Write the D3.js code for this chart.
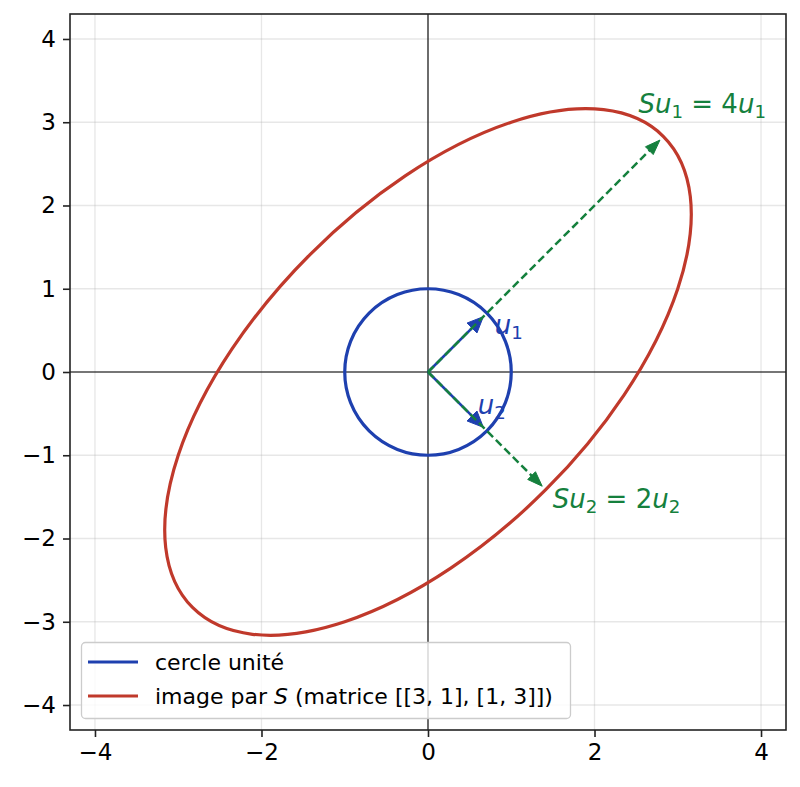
<!DOCTYPE html>
<html>
<head>
<meta charset="utf-8">
<script src="https://cdn.jsdelivr.net/npm/d3@7"></script>
<style>
  body { margin: 0; background: #fff; }
  svg text { font-family: "DejaVu Sans", sans-serif; }
</style>
</head>
<body>
<svg id="chart" width="800" height="787"></svg>
<script>
// data
const matrixS = [[3, 1], [1, 3]];
const eigenvalues = [4, 2];
const eigenvectors = [[Math.SQRT1_2, Math.SQRT1_2], [Math.SQRT1_2, -Math.SQRT1_2]];
const xTicks = [-4, -2, 0, 2, 4];
const yTicks = [-4, -3, -2, -1, 0, 1, 2, 3, 4];
const vecNames = ["u", "u"];
const legendLabels = ["cercle unité", "image par S (matrice [[3, 1], [1, 3]])"];

const blue = "#1e40af", red = "#c0392b", green = "#15803d";

const svg = d3.select("#chart");

// scales (equal aspect)
const x = d3.scaleLinear().domain([-4.3, 4.3]).range([70, 786]);
const y = d3.scaleLinear().domain([-4.3, 4.3]).range([730, 14]);
const unit = x(1) - x(0);

// grid
svg.append("g").selectAll("line").data(xTicks).join("line")
  .attr("x1", d => x(d)).attr("x2", d => x(d))
  .attr("y1", 14).attr("y2", 730)
  .attr("stroke", "#b0b0b0").attr("stroke-opacity", 0.3).attr("stroke-width", 1.3);
svg.append("g").selectAll("line").data(yTicks).join("line")
  .attr("y1", d => y(d)).attr("y2", d => y(d))
  .attr("x1", 70).attr("x2", 786)
  .attr("stroke", "#b0b0b0").attr("stroke-opacity", 0.3).attr("stroke-width", 1.3);

// axis lines through origin
svg.append("line").attr("x1", 70).attr("x2", 786).attr("y1", y(0)).attr("y2", y(0))
  .attr("stroke", "#000").attr("stroke-width", 1.1);
svg.append("line").attr("x1", x(0)).attr("x2", x(0)).attr("y1", 14).attr("y2", 730)
  .attr("stroke", "#000").attr("stroke-width", 1.1);

// unit circle
svg.append("circle")
  .attr("cx", x(0)).attr("cy", y(0)).attr("r", unit)
  .attr("fill", "none").attr("stroke", blue).attr("stroke-width", 3.2);

// image ellipse: semi-axes = eigenvalues along eigenvectors
const angle = Math.atan2(eigenvectors[0][1], eigenvectors[0][0]) * 180 / Math.PI;
svg.append("ellipse")
  .attr("cx", 0).attr("cy", 0)
  .attr("rx", x(eigenvalues[0]) - x(0))
  .attr("ry", x(eigenvalues[1]) - x(0))
  .attr("transform", `translate(${x(0)},${y(0)}) rotate(${-angle})`)
  .attr("fill", "none").attr("stroke", red).attr("stroke-width", 3.2);

// arrow helper (pixel coords)
function arrow(x0, y0, x1, y1, color, lw, headLen, headW, dash) {
  const dx = x1 - x0, dy = y1 - y0;
  const len = Math.hypot(dx, dy);
  const ux = dx / len, uy = dy / len;
  const tx = x1 - ux * 5, ty = y1 - uy * 5;       // small shrink at the tip
  const bx = tx - ux * headLen, by = ty - uy * headLen;
  svg.append("line")
    .attr("x1", x0).attr("y1", y0).attr("x2", bx + ux * 2).attr("y2", by + uy * 2)
    .attr("stroke", color).attr("stroke-width", lw)
    .attr("stroke-dasharray", dash || null);
  const px = -uy, py = ux;
  svg.append("path")
    .attr("d", `M${tx},${ty}L${bx + px * headW / 2},${by + py * headW / 2}L${bx - px * headW / 2},${by - py * headW / 2}Z`)
    .attr("fill", color).attr("stroke", color).attr("stroke-width", 1);
}

// u1, u2 (blue)
eigenvectors.forEach(v => {
  arrow(x(0), y(0), x(v[0]), y(v[1]), blue, 2.6, 16, 14);
});
// S u_i = lambda_i u_i (green dashed)
eigenvectors.forEach((v, i) => {
  arrow(x(0), y(0), x(v[0] * eigenvalues[i]), y(v[1] * eigenvalues[i]), green, 2.5, 15, 11, "8,4");
});

// labels with subscripts
function mathLabel(px, py, parts, color, size) {
  const t = svg.append("text").attr("x", px).attr("y", py)
    .attr("fill", color).attr("font-size", size);
  parts.forEach(p => {
    const s = t.append("tspan").text(p.t);
    if (p.it) s.attr("font-style", "italic");
    if (p.sub) s.attr("font-size", size * 0.7).attr("dy", size * 0.2);
    if (p.up) s.attr("dy", -size * 0.2);
  });
  return t;
}

vecNames.forEach((n, i) => {
  const v = eigenvectors[i];
  const off = i === 0 ? [8, 21] : [-9, -17];
  mathLabel(x(v[0]) + off[0], y(v[1]) + off[1],
    [{ t: n, it: true }, { t: String(i + 1), sub: true }], blue, 26);
});

const su = [
  { off: [-25, -24] },
  { off: [7, 18] }
];
eigenvectors.forEach((v, i) => {
  const lam = eigenvalues[i];
  mathLabel(x(v[0] * lam) + su[i].off[0], y(v[1] * lam) + su[i].off[1], [
    { t: "S", it: true }, { t: "u", it: true }, { t: String(i + 1), sub: true },
    { t: " = " + lam, up: true }, { t: "u", it: true }, { t: String(i + 1), sub: true }
  ], green, 26);
});

// frame
svg.append("rect").attr("x", 70).attr("y", 14).attr("width", 716).attr("height", 716)
  .attr("fill", "none").attr("stroke", "#222").attr("stroke-width", 1.6);

// axes
const xAxis = d3.axisBottom(x).tickValues(xTicks).tickSize(7).tickPadding(7);
const yAxis = d3.axisLeft(y).tickValues(yTicks).tickSize(7).tickPadding(7);
const gx = svg.append("g").attr("transform", "translate(0,730)").call(xAxis);
const gy = svg.append("g").attr("transform", "translate(70,0)").call(yAxis);
[gx, gy].forEach(g => {
  g.select(".domain").remove();
  g.selectAll(".tick line").attr("stroke", "#222").attr("stroke-width", 1.6);
  g.selectAll(".tick text").attr("fill", "#000").attr("font-size", 23)
    .attr("font-family", "DejaVu Sans, sans-serif");
});

// legend
const lg = svg.append("g");
lg.append("rect").attr("x", 81.5).attr("y", 642.5).attr("width", 489).attr("height", 76)
  .attr("rx", 4).attr("fill", "#fff").attr("fill-opacity", 0.8)
  .attr("stroke", "#cccccc").attr("stroke-width", 1.3);
const legendColors = [blue, red];
legendLabels.forEach((lab, i) => {
  const cy = 662 + i * 34;
  lg.append("line").attr("x1", 88).attr("x2", 138).attr("y1", cy).attr("y2", cy)
    .attr("stroke", legendColors[i]).attr("stroke-width", 3.2);
  const t = lg.append("text").attr("x", 155).attr("y", cy + 8).attr("font-size", 22).attr("fill", "#000");
  if (i === 1) {
    const k = lab.indexOf("S");
    t.append("tspan").text(lab.slice(0, k));
    t.append("tspan").attr("font-style", "italic").text("S");
    t.append("tspan").text(lab.slice(k + 1));
  } else {
    t.text(lab);
  }
});
</script>
</body>
</html>
